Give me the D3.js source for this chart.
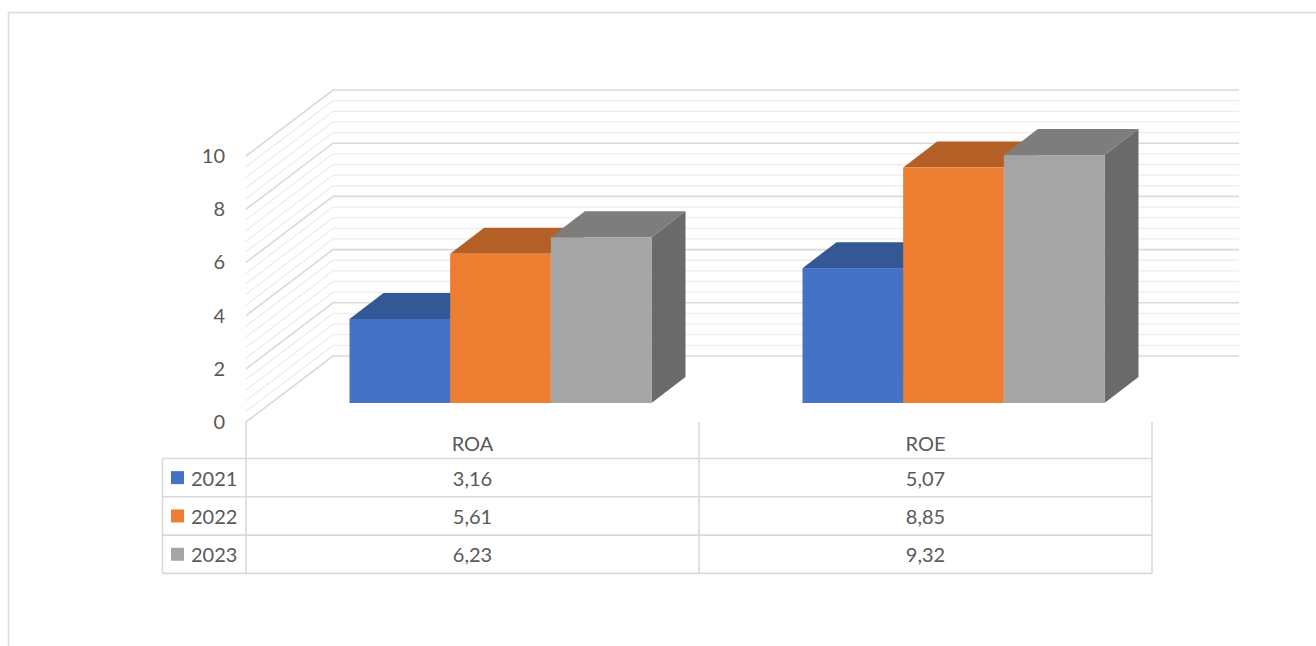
<!DOCTYPE html>
<html>
<head>
<meta charset="utf-8">
<script src="https://cdn.jsdelivr.net/npm/d3@7"></script>
<style>
  html, body { margin: 0; padding: 0; background: #ffffff; }
  svg { display: block; }
  text { font-family: Lato, "Open Sans", sans-serif; fill: #595959; }
</style>
</head>
<body>
<svg id="chart" width="1316" height="646"></svg>
<script>
// ---- data ----
const categories = ["ROA", "ROE"];
const seriesNames = ["2021", "2022", "2023"];
const values2021 = [3.16, 5.07];
const values2022 = [5.61, 8.85];
const values2023 = [6.23, 9.32];
const seriesColors = ["#4472C4", "#ED7D31", "#A5A5A5"];
const yTickValues = [0, 2, 4, 6, 8, 10];

const series = seriesNames.map((name, i) => ({
  name,
  color: seriesColors[i],
  values: [values2021, values2022, values2023][i]
}));

// ---- layout ----
const svg = d3.select("#chart");
const W = 1316, H = 646;

const plotLeft = 246, plotRight = 1152;
const x = d3.scaleBand().domain(categories).range([plotLeft, plotRight]);
const xSeries = d3.scaleBand().domain(seriesNames).range([0, x.bandwidth()])
  .paddingInner(0).paddingOuter(0.75);
const y = d3.scaleLinear().domain([0, 10]).range([422, 156]);

// oblique depth offsets (screen px)
const wallDX = 87, wallDY = -66;     // front edge -> back wall
const barFX = 28, barFY = -19;       // front edge -> bar front faces
const barDX = 34, barDY = -26;       // bar depth

const fmt = d3.formatLocale({ decimal: ",", thousands: ".", grouping: [3], currency: ["", ""] }).format(".2f");

// chart area border
svg.append("rect")
  .attr("x", 8.5).attr("y", 12.5)
  .attr("width", W + 20).attr("height", H + 20)
  .attr("fill", "none").attr("stroke", "#d9d9d9").attr("stroke-width", 1.5);

// ---- walls: side and back gridlines (major every 2, minor every 0.4) ----
const gridVals = d3.range(0, 26).map(i => +(i * 0.4).toFixed(1));
const isMajor = v => Math.abs(v / 2 - Math.round(v / 2)) < 1e-6;

const grid = svg.append("g").attr("fill", "none");
// draw minor first so majors sit on top
[false, true].forEach(major => {
  gridVals.filter(v => isMajor(v) === major).forEach(v => {
    const yf = y(v);
    grid.append("path")
      .attr("d", d3.line()([
        [plotLeft, yf],
        [plotLeft + wallDX, yf + wallDY],
        [plotRight + wallDX, yf + wallDY]
      ]))
      .attr("stroke", major ? "#d9d9d9" : "#ededed")
      .attr("stroke-width", major ? 1.6 : 1.3);
  });
});

// ---- 3D bars ----
const barsG = svg.append("g");
const shade = (c, k) => {
  const r = d3.rgb(c);
  return d3.rgb(r.r * k, r.g * k, r.b * k).formatHex();
};

categories.forEach((cat, ci) => {
  series.forEach(s => {
    const x0 = x(cat) + xSeries(s.name) + barFX;
    const x1 = x0 + xSeries.bandwidth();
    const yBase = y(0) + barFY;
    const yTop = y(s.values[ci]) + barFY;
    const g = barsG.append("g");
    // right side face
    g.append("path")
      .attr("d", d3.line()([[x1, yBase], [x1 + barDX, yBase + barDY], [x1 + barDX, yTop + barDY], [x1, yTop]]) + "Z")
      .attr("fill", shade(s.color, 0.64));
    // top face
    g.append("path")
      .attr("d", d3.line()([[x0, yTop], [x0 + barDX, yTop + barDY], [x1 + barDX, yTop + barDY], [x1, yTop]]) + "Z")
      .attr("fill", shade(s.color, 0.76));
    // front face
    g.append("rect")
      .attr("x", x0).attr("y", yTop)
      .attr("width", x1 - x0).attr("height", yBase - yTop)
      .attr("fill", s.color);
  });
});

// ---- value axis labels ----
const yAxis = d3.axisLeft(y).tickValues(yTickValues).tickSize(0).tickPadding(21)
  .tickFormat(d3.format("d"));
const axG = svg.append("g").attr("transform", `translate(${plotLeft},0)`).call(yAxis);
axG.select(".domain").remove();
axG.selectAll("text")
  .attr("font-size", 20)
  .attr("font-family", "Lato, 'Open Sans', sans-serif")
  .attr("fill", "#595959");

// ---- data table ----
const table = svg.append("g");
const lineColor = "#d9d9d9";
const headerTop = y(0), rowTop = 458.5, rowH = 38.3;
const legendLeft = 162.5;
const nRows = series.length;
const tableBottom = rowTop + rowH * nRows;

// vertical rules at category boundaries
const colEdges = [plotLeft, ...categories.map(c => x(c) + x.bandwidth())];
colEdges.forEach(cx => {
  table.append("line")
    .attr("x1", cx).attr("x2", cx)
    .attr("y1", headerTop).attr("y2", tableBottom)
    .attr("stroke", lineColor).attr("stroke-width", 1.6);
});
table.append("line")
  .attr("x1", legendLeft).attr("x2", legendLeft)
  .attr("y1", rowTop).attr("y2", tableBottom)
  .attr("stroke", lineColor).attr("stroke-width", 1.6);
// horizontal rules
d3.range(nRows + 1).forEach(i => {
  const ry = rowTop + rowH * i;
  table.append("line")
    .attr("x1", legendLeft).attr("x2", plotRight)
    .attr("y1", ry).attr("y2", ry)
    .attr("stroke", lineColor).attr("stroke-width", 1.6);
});

// category headers
table.selectAll("text.cat").data(categories).join("text")
  .attr("class", "cat")
  .attr("x", d => x(d) + x.bandwidth() / 2)
  .attr("y", 443)
  .attr("text-anchor", "middle")
  .attr("dominant-baseline", "central")
  .attr("font-size", 20)
  .text(d => d);

// rows: legend key + values
series.forEach((s, i) => {
  const cy = rowTop + rowH * i + rowH / 2;
  table.append("rect")
    .attr("x", 171).attr("y", cy - 6.5)
    .attr("width", 13).attr("height", 13)
    .attr("fill", s.color);
  table.append("text")
    .attr("x", 191).attr("y", cy)
    .attr("dominant-baseline", "central")
    .attr("font-size", 20)
    .text(s.name);
  categories.forEach((cat, ci) => {
    table.append("text")
      .attr("x", x(cat) + x.bandwidth() / 2)
      .attr("y", cy)
      .attr("text-anchor", "middle")
      .attr("dominant-baseline", "central")
      .attr("font-size", 20)
      .text(fmt(s.values[ci]));
  });
});
</script>
</body>
</html>
